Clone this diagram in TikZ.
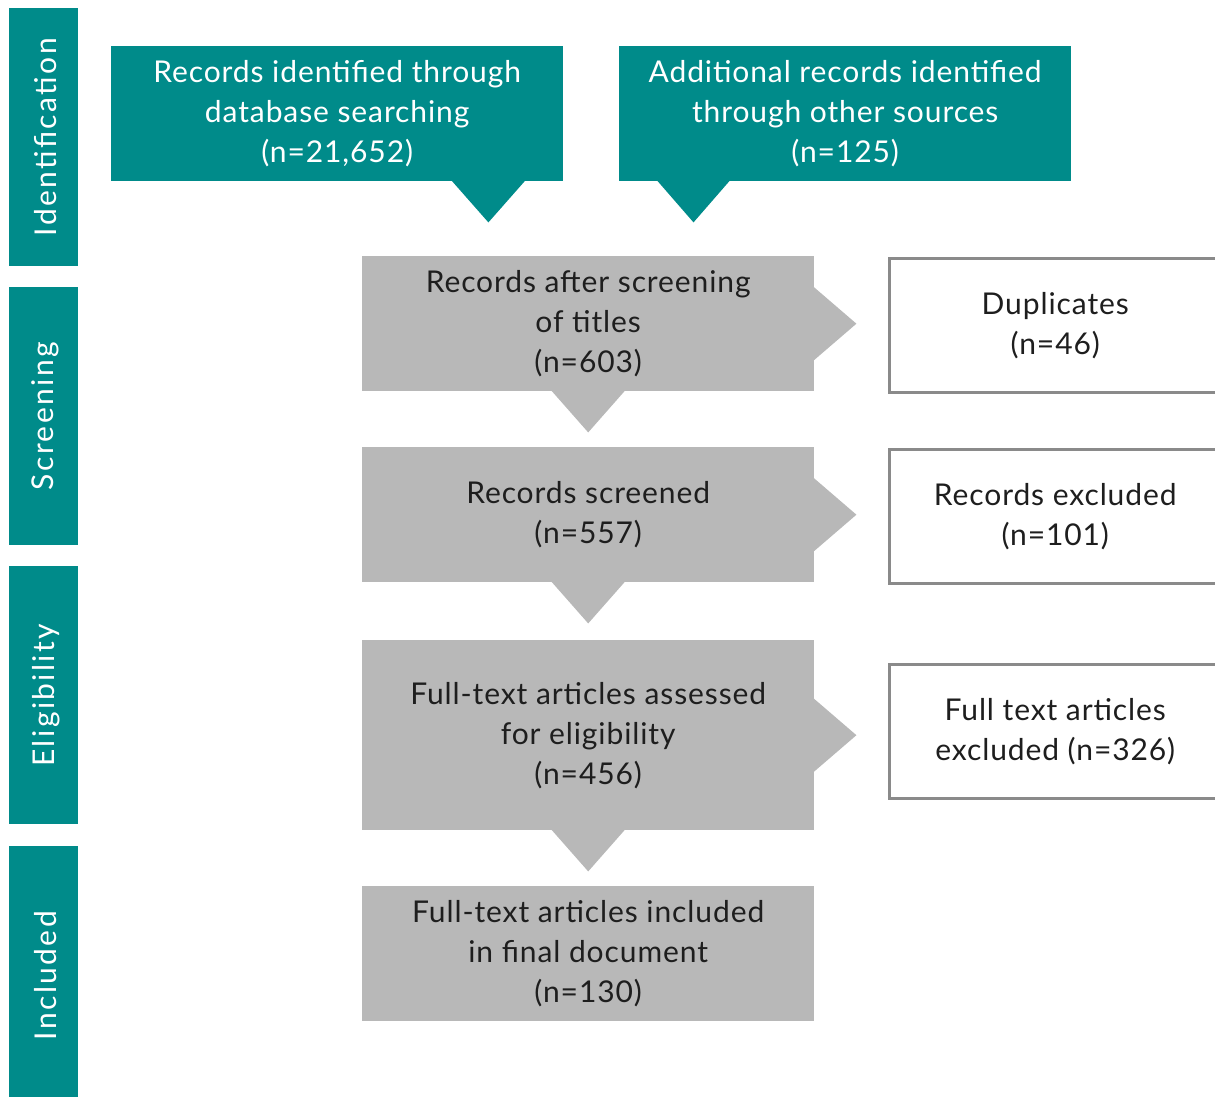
\documentclass[tikz,border=0pt]{standalone}
\usepackage{fontspec}
\setmainfont[LetterSpace=3]{Lato}
\newfontfamily\sidefont[LetterSpace=8]{Lato}
\usetikzlibrary{calc}
\definecolor{tealc}{RGB}{0,139,138}
\definecolor{grayc}{RGB}{184,184,184}
\definecolor{edgec}{RGB}{138,138,138}
\definecolor{txtc}{RGB}{30,30,30}
\begin{document}
\begin{tikzpicture}[x=1pt,y=-1pt,
  side/.style={fill=tealc, minimum width=69pt, inner sep=0pt, anchor=north west},
  sidelabel/.style={text=white, rotate=90, inner sep=0pt, font=\sidefont\fontsize{30}{34}\selectfont},
  boxtext/.style={inner sep=0pt, anchor=north west, align=center, font=\fontsize{30}{40}\selectfont},
  tealbox/.style={boxtext, fill=tealc, text=white, minimum width=452pt, minimum height=135pt},
  graybox/.style={boxtext, fill=grayc, text=txtc, minimum width=452pt},
  outbox/.style={boxtext, draw=edgec, line width=2.5pt, fill=white, text=txtc, minimum width=332pt, minimum height=134pt},
  tealptr/.style={fill=tealc},
  grayptr/.style={fill=grayc}
]
\useasboundingbox[fill=white] (0,0) rectangle (1215,1097);

% sidebars
\node[side, minimum height=258pt] (s1) at (9,8) {};
\node[side, minimum height=258pt] (s2) at (9,287) {};
\node[side, minimum height=258pt] (s3) at (9,566) {};
\node[side, minimum height=255pt] (s4) at (9,846) {};
\node[sidelabel] (l1) at ($(s1.center)+(2,0)$) {Identification};
\node[sidelabel] (l2) at ($(s2.center)+(2,0)$) {Screening};
\node[sidelabel] (l3) at ($(s3.center)+(2,0)$) {Eligibility};
\node[sidelabel] (l4) at ($(s4.center)+(2,2)$) {Included};

% identification boxes
\node[tealbox] (r1) at (111,46) {Records identified through\\database searching\\(n=21,652)};
\node[tealbox] (r2) at (619,46) {Additional records identified\\through other sources\\(n=125)};

% main flow
\node[graybox, minimum height=135pt] (g1) at (362,256) {Records after screening\\of titles\\(n=603)};
\node[graybox, minimum height=135pt] (g2) at (362,447) {Records screened\\(n=557)};
\node[graybox, minimum height=190pt] (g3) at (362,640) {Full-text articles assessed\\for eligibility\\(n=456)};
\node[graybox, minimum height=135pt] (g4) at (362,886) {Full-text articles included\\in final document\\(n=130)};

% exclusion boxes
\node[outbox] (o1) at (888,257) {Duplicates\\(n=46)};
\node[outbox] (o2) at (888,448) {Records excluded\\(n=101)};
\node[outbox] (o3) at (888,663) {Full text articles\\excluded (n=326)};

% pointers from identification
\fill[tealptr] ($(r1.south east)+(-112,-1)$) -- ($(r1.south east)+(-38,-1)$) -- ($(r1.south east)+(-75,41)$) -- cycle;
\fill[tealptr] ($(r2.south west)+(38,-1)$) -- ($(r2.south west)+(111,-1)$) -- ($(r2.south west)+(74.5,41)$) -- cycle;

% downward pointers
\foreach \g in {g1,g2,g3}{
  \fill[grayptr] ($(\g.south)+(-37,-1)$) -- ($(\g.south)+(37,-1)$) -- ($(\g.south)+(0,41)$) -- cycle;
}
% rightward pointers
\foreach \g in {g1,g2,g3}{
  \fill[grayptr] ($(\g.east)+(-1,-37)$) -- ($(\g.east)+(-1,37)$) -- ($(\g.east)+(42,0)$) -- cycle;
}
\end{tikzpicture}
\end{document}
